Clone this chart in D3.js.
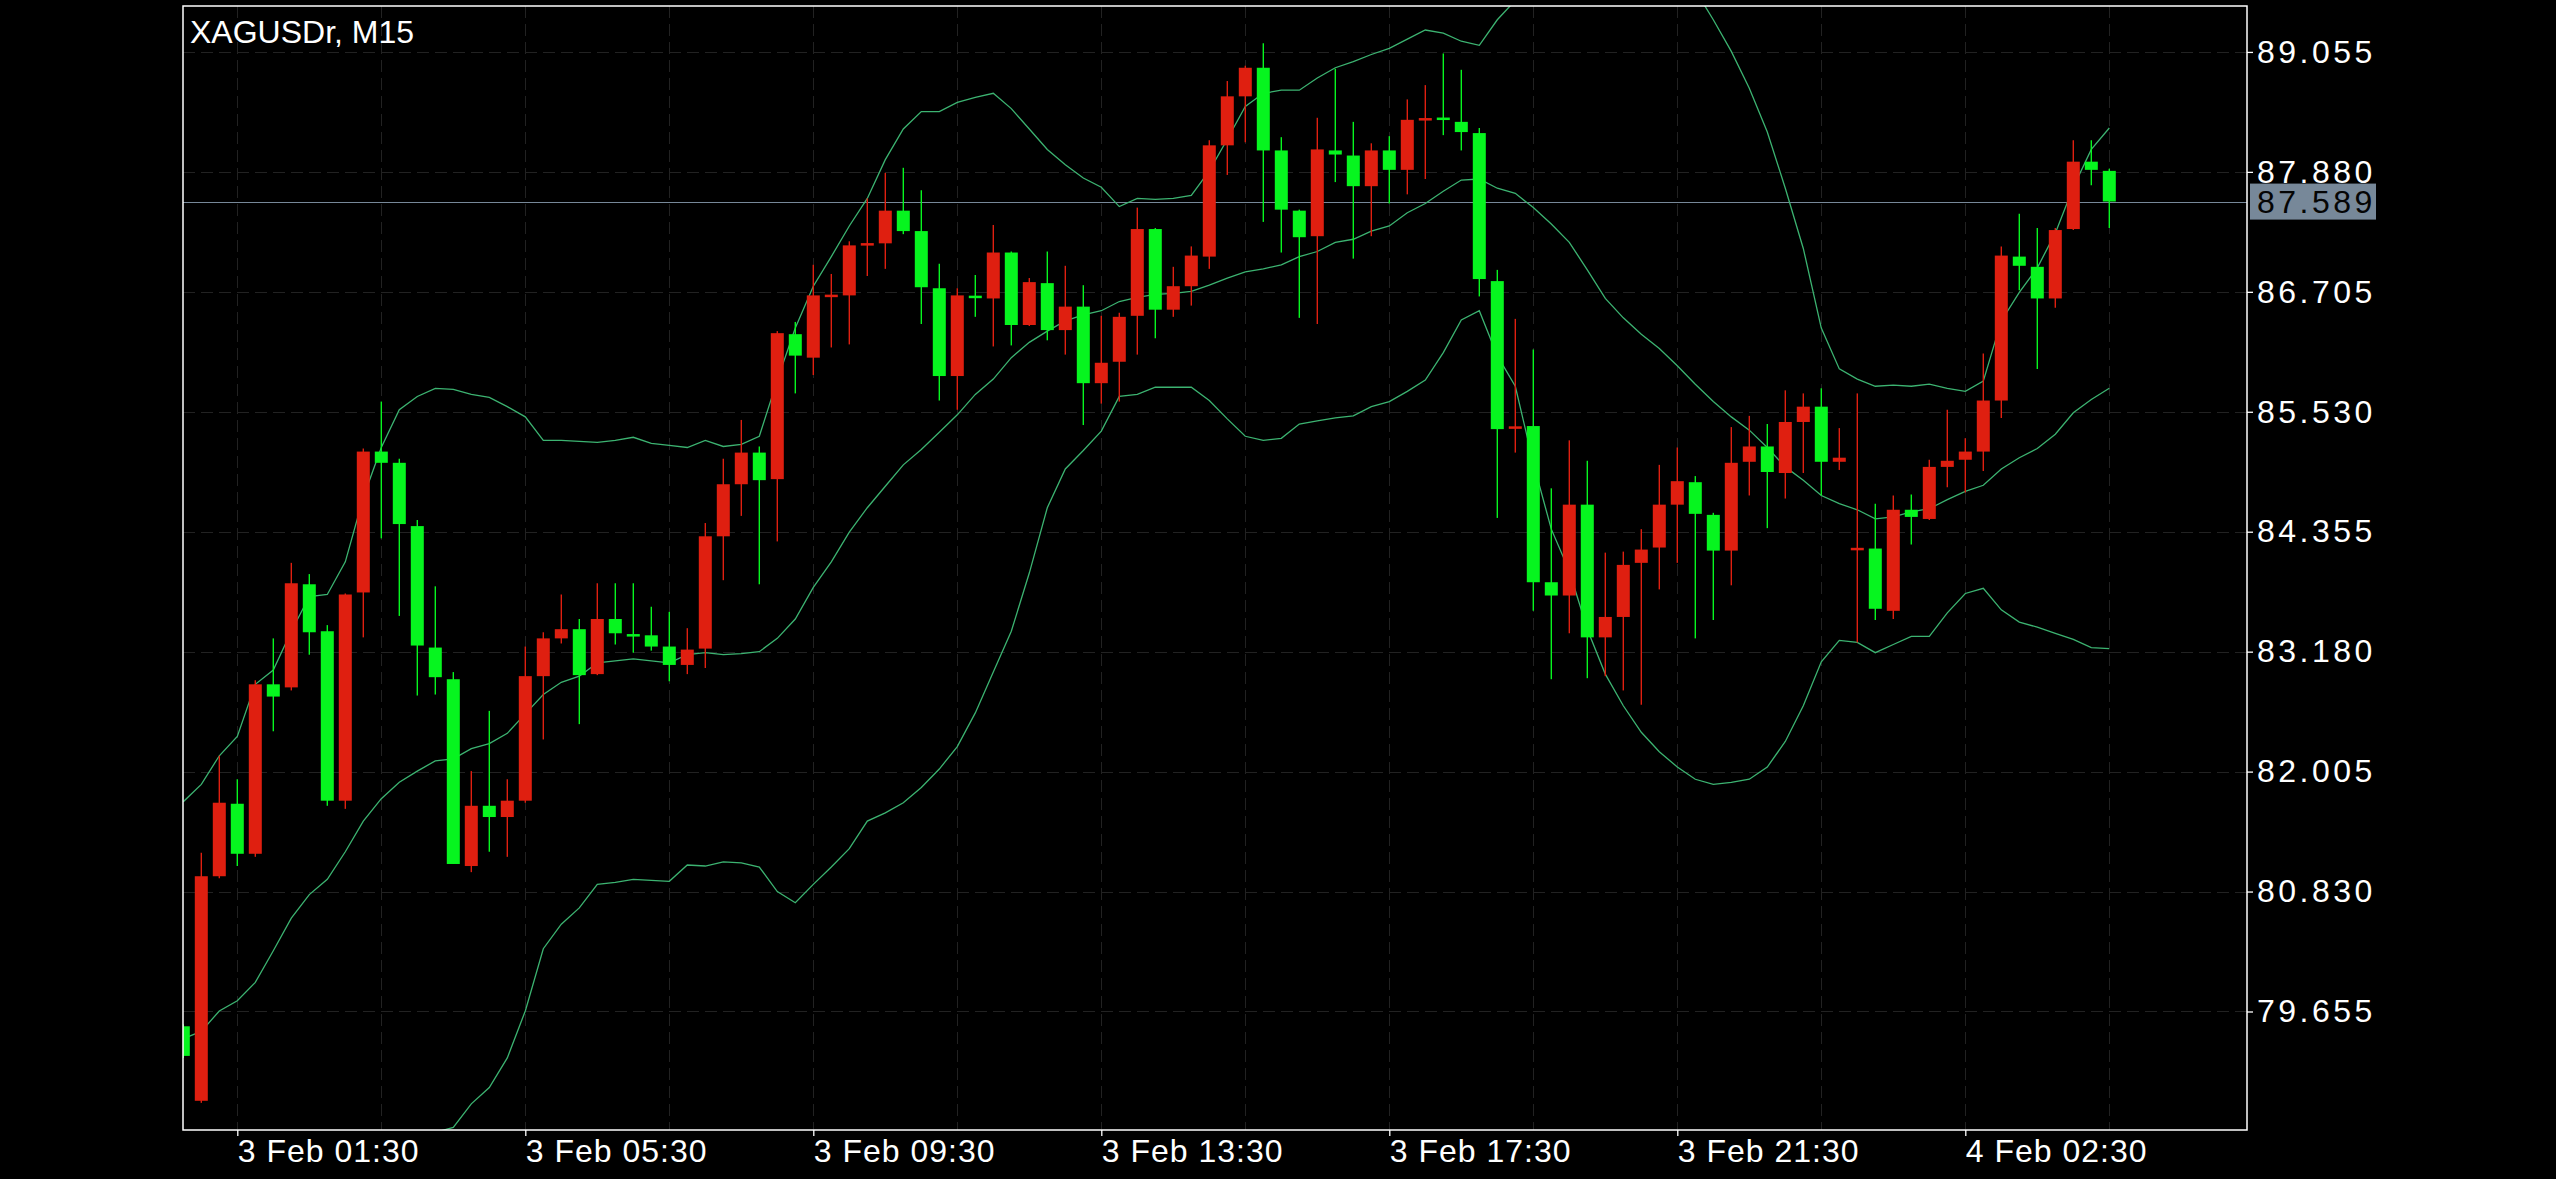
<!DOCTYPE html>
<html><head><meta charset="utf-8">
<script src="https://cdn.jsdelivr.net/npm/d3@7"></script>
<style>html,body{margin:0;padding:0;background:#000;overflow:hidden}</style>
</head><body><svg id="chart" width="2556" height="1179"></svg>
<script>
const symbolTitle = "XAGUSDr, M15";
const openP = [79.51,78.78,80.98,81.69,81.20,82.86,82.83,83.84,83.38,81.72,83.76,85.14,85.03,84.41,83.22,82.91,81.08,81.67,81.56,81.72,
82.94,83.31,83.40,82.96,83.50,83.35,83.34,83.23,83.05,83.21,84.31,84.82,85.13,84.87,86.29,86.06,86.66,86.67,87.16,87.18,
87.50,87.30,86.74,85.88,86.66,86.64,87.09,86.38,86.79,86.33,86.56,85.81,86.02,86.47,87.32,86.53,86.76,87.05,88.14,88.62,
88.90,88.09,87.50,87.25,88.09,88.04,87.74,88.09,87.90,88.39,88.41,88.37,88.26,86.81,85.37,85.39,83.86,83.73,84.62,83.32,
83.52,84.05,84.20,84.62,84.84,84.52,84.17,85.04,85.19,84.93,85.43,85.58,85.04,84.18,84.19,83.58,84.57,84.48,84.99,85.06,
85.14,85.64,87.05,86.95,86.64,87.32,87.98,87.89];
const highP = [79.53,81.21,82.16,81.93,82.90,83.31,84.05,83.94,83.44,83.75,85.17,85.63,85.07,84.47,83.82,82.98,82.01,82.60,81.93,83.23,
83.37,83.74,83.50,83.85,83.85,83.85,83.62,83.57,83.41,84.44,85.07,85.45,85.19,86.32,86.41,86.97,86.88,87.20,87.62,87.87,
87.92,87.70,86.98,86.74,86.87,87.36,87.10,86.84,87.10,86.96,86.77,86.47,86.50,87.53,87.33,86.95,87.15,88.19,88.77,88.92,
89.14,88.22,87.51,88.41,88.89,88.37,88.16,88.23,88.59,88.73,89.04,88.88,88.31,86.92,86.44,86.14,84.78,85.25,85.05,84.15,
84.16,84.38,85.01,85.18,84.90,84.54,85.38,85.49,85.41,85.74,85.71,85.76,85.37,85.71,84.63,84.71,84.72,85.06,85.55,85.27,
86.10,87.15,87.47,87.33,87.33,88.19,88.19,87.91];
const lowP = [79.20,78.76,80.96,81.08,81.17,82.40,82.80,83.15,81.67,81.64,83.32,84.29,83.53,82.75,82.76,81.10,81.02,81.22,81.17,81.70,
82.32,83.26,82.47,82.95,83.25,83.17,83.19,82.89,82.96,83.02,83.88,84.51,83.84,84.26,85.71,85.89,86.16,86.19,86.86,86.93,
87.27,86.39,85.64,85.55,86.46,86.17,86.18,86.37,86.23,86.09,85.40,85.61,85.63,86.09,86.25,86.46,86.57,86.93,87.85,88.17,
87.39,87.09,86.45,86.39,87.78,87.03,87.25,87.57,87.66,87.81,88.24,88.09,86.66,84.49,85.13,83.58,82.91,83.36,82.92,82.94,
82.80,82.66,83.79,84.05,83.31,83.49,83.83,84.71,84.39,84.68,84.93,84.71,84.96,83.27,83.49,83.50,84.23,84.47,84.79,84.74,
84.95,85.47,86.72,85.95,86.55,87.31,87.75,87.33];
const closeP = [79.22,80.98,81.70,81.20,82.86,82.74,83.85,83.37,81.72,83.74,85.14,85.03,84.43,83.24,82.93,81.10,81.67,81.56,81.72,82.94,
83.31,83.40,82.95,83.50,83.36,83.33,83.23,83.05,83.20,84.31,84.82,85.13,84.86,86.30,86.08,86.67,86.67,87.16,87.18,87.50,
87.30,86.75,85.88,86.67,86.65,87.09,86.38,86.80,86.33,86.56,85.81,86.01,86.46,87.32,86.53,86.76,87.06,88.14,88.62,88.90,
88.09,87.51,87.24,88.10,88.05,87.74,88.09,87.90,88.39,88.40,88.39,88.27,86.83,85.36,85.38,83.86,83.73,84.62,83.32,83.52,
84.03,84.18,84.62,84.85,84.53,84.17,85.03,85.19,84.94,85.43,85.58,85.04,85.08,84.19,83.60,84.57,84.50,84.99,85.05,85.14,
85.64,87.06,86.96,86.64,87.31,87.98,87.90,87.59];
const bbUpper = [81.71,81.88,82.16,82.35,82.86,83.00,83.38,83.72,83.74,84.06,84.69,85.18,85.55,85.68,85.76,85.75,85.70,85.67,85.58,85.48,
85.25,85.25,85.24,85.23,85.25,85.28,85.22,85.20,85.18,85.25,85.19,85.21,85.29,85.84,86.35,86.76,87.05,87.35,87.62,88.00,
88.30,88.47,88.47,88.56,88.61,88.65,88.50,88.30,88.10,87.95,87.82,87.73,87.54,87.62,87.61,87.62,87.65,87.89,88.20,88.52,
88.65,88.68,88.68,88.80,88.90,88.96,89.03,89.09,89.18,89.27,89.24,89.16,89.12,89.37,89.56,90.02,90.37,90.40,90.45,90.31,
90.25,90.19,90.10,89.92,89.66,89.37,89.06,88.70,88.27,87.72,87.13,86.35,85.95,85.85,85.78,85.79,85.78,85.80,85.76,85.73,
85.83,86.42,86.70,86.94,87.28,87.73,88.10,88.31];
const bbMiddle = [79.39,79.46,79.66,79.76,79.94,80.25,80.57,80.80,80.95,81.22,81.52,81.74,81.90,82.01,82.11,82.13,82.23,82.28,82.38,82.57,
82.76,82.88,82.94,83.07,83.09,83.11,83.09,83.07,83.15,83.17,83.15,83.16,83.18,83.31,83.50,83.81,84.06,84.35,84.59,84.80,
85.01,85.16,85.33,85.50,85.70,85.85,86.06,86.21,86.32,86.42,86.48,86.52,86.61,86.65,86.68,86.69,86.71,86.77,86.84,86.90,
86.93,86.97,87.05,87.10,87.19,87.22,87.30,87.35,87.48,87.57,87.69,87.80,87.81,87.72,87.67,87.53,87.37,87.19,86.92,86.64,
86.45,86.29,86.15,85.98,85.80,85.63,85.48,85.35,85.18,84.99,84.86,84.71,84.63,84.57,84.48,84.50,84.55,84.58,84.67,84.75,
84.81,84.97,85.08,85.17,85.31,85.52,85.65,85.76];
const bbLower = [77.08,77.04,77.15,77.17,77.02,77.50,77.76,77.89,78.15,78.39,78.35,78.30,78.26,78.35,78.47,78.52,78.75,78.91,79.20,79.66,
80.27,80.51,80.67,80.90,80.92,80.95,80.94,80.93,81.09,81.08,81.12,81.11,81.07,80.83,80.72,80.90,81.07,81.25,81.52,81.60,
81.70,81.85,82.03,82.25,82.58,82.98,83.38,83.95,84.59,84.97,85.15,85.34,85.68,85.70,85.77,85.77,85.77,85.64,85.46,85.29,
85.25,85.27,85.41,85.44,85.47,85.49,85.58,85.63,85.73,85.84,86.11,86.43,86.52,86.08,85.78,85.03,84.38,83.97,83.40,82.96,
82.65,82.39,82.20,82.05,81.93,81.88,81.90,81.93,82.05,82.30,82.65,83.08,83.29,83.27,83.17,83.25,83.33,83.33,83.56,83.75,
83.80,83.59,83.47,83.42,83.36,83.30,83.22,83.21];
const priceTicks = [89.055,87.880,86.705,85.530,84.355,83.180,82.005,80.830,79.655];
const timeTickIndex = [3,19,35,51,67,83,99];
const timeTickLabels = ["3 Feb 01:30","3 Feb 05:30","3 Feb 09:30","3 Feb 13:30","3 Feb 17:30","3 Feb 21:30","4 Feb 02:30"];
const gridEvery = 8;
const currentPrice = 87.589;

const L = 183, R = 2247, T = 6, B = 1130;
const UP = "#df1f10", DOWN = "#06f51f", BAND = "#3cb371", GRID = "#222222";
const FONT = "'Liberation Sans', Arial, Helvetica, sans-serif";

const svg = d3.select("#chart");
svg.append("rect").attr("width",2556).attr("height",1179).attr("fill","#000");

const x = d3.scaleLinear().domain([-0.0167, 114.65]).range([L, R]);
const y = d3.scaleLinear().domain([78.494, 89.505]).range([B, T]);

svg.append("defs").append("clipPath").attr("id","plot")
  .append("rect").attr("x",L).attr("y",T).attr("width",R-L).attr("height",B-T);

// grid
const grid = svg.append("g").attr("shape-rendering","crispEdges");
grid.selectAll("line.h").data(priceTicks).join("line")
  .attr("x1",L).attr("x2",R).attr("y1",d=>Math.round(y(d))+0.5).attr("y2",d=>Math.round(y(d))+0.5)
  .attr("stroke",GRID).attr("stroke-width",1).attr("stroke-dasharray","12,6");
const vIdx = d3.range(3, openP.length, gridEvery);
grid.selectAll("line.v").data(vIdx).join("line")
  .attr("x1",d=>Math.round(x(d))+0.5).attr("x2",d=>Math.round(x(d))+0.5).attr("y1",T).attr("y2",B)
  .attr("stroke",GRID).attr("stroke-width",1).attr("stroke-dasharray","12,6");

const plot = svg.append("g").attr("clip-path","url(#plot)");

// current price line
plot.append("line").attr("x1",L).attr("x2",R)
  .attr("y1",Math.round(y(currentPrice))+0.5).attr("y2",Math.round(y(currentPrice))+0.5)
  .attr("stroke","#778899").attr("stroke-width",1.2);

// bands
const line = d3.line().x((d,i)=>x(i)).y(d=>y(d));
[bbUpper, bbMiddle, bbLower].forEach(arr=>{
  plot.append("path").datum(arr).attr("d",line).attr("fill","none")
    .attr("stroke",BAND).attr("stroke-width",1.3);
});

// candles
const idx = d3.range(openP.length);
const col = i => closeP[i] >= openP[i] ? UP : DOWN;
plot.selectAll("line.wick").data(idx).join("line")
  .attr("x1",i=>x(i)).attr("x2",i=>x(i))
  .attr("y1",i=>y(highP[i])).attr("y2",i=>y(lowP[i]))
  .attr("stroke",col).attr("stroke-width",1.4);
plot.selectAll("rect.body").data(idx).join("rect")
  .attr("x",i=>x(i)-6.5).attr("width",13)
  .attr("y",i=>{const a=y(openP[i]),b=y(closeP[i]);const h=Math.abs(a-b);return h<2.5?(a+b)/2-1.25:Math.min(a,b);})
  .attr("height",i=>Math.max(2.5,Math.abs(y(openP[i])-y(closeP[i]))))
  .attr("fill",col);

// frame
svg.append("rect").attr("x",L).attr("y",T).attr("width",R-L).attr("height",B-T)
  .attr("fill","none").attr("stroke","#fff").attr("stroke-width",1.5);

// axes
const yAxis = d3.axisRight(y).tickValues(priceTicks).tickFormat(d3.format(".3f")).tickSize(6).tickPadding(4);
const gy = svg.append("g").attr("transform",`translate(${R},0)`).call(yAxis);
gy.select(".domain").remove();
gy.selectAll(".tick line").attr("stroke","#fff").attr("stroke-width",1.3);
gy.selectAll("text").attr("fill","#fff").attr("font-family",FONT).attr("font-size",32)
  .attr("letter-spacing","3.5px");

const xAxis = d3.axisBottom(x).tickValues(timeTickIndex).tickFormat((d,k)=>timeTickLabels[k]).tickSize(6).tickPadding(3);
const gx = svg.append("g").attr("transform",`translate(0,${B})`).call(xAxis);
gx.select(".domain").remove();
gx.selectAll(".tick line").attr("stroke","#fff").attr("stroke-width",1.3);
gx.selectAll("text").attr("fill","#fff").attr("font-family",FONT).attr("font-size",32)
  .attr("text-anchor","start").attr("letter-spacing","1px");

// current price label
const cy = y(currentPrice);
svg.append("rect").attr("x",R+3).attr("y",cy-18).attr("width",126).attr("height",36).attr("fill","#778899");
svg.append("text").attr("x",R+10).attr("y",cy).attr("dy","0.35em").attr("fill","#050505")
  .attr("font-family",FONT).attr("font-size",32).attr("letter-spacing","3.5px")
  .text(d3.format(".3f")(currentPrice));

// title
svg.append("text").attr("x",190).attr("y",43).attr("fill","#fff")
  .attr("font-family",FONT).attr("font-size",32).text(symbolTitle);
</script></body></html>
